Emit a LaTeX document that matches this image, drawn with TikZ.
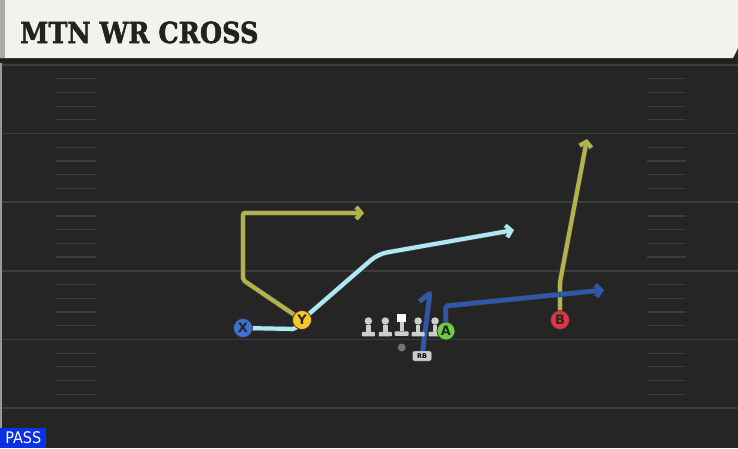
\documentclass[tikz,border=0pt]{standalone}
\usepackage{fontspec}
\setsansfont{DejaVu Sans}
\newfontfamily\titlefont{DejaVu Serif}[BoldFeatures={FakeBold=1.8}]
\usepackage{tikz}
\usetikzlibrary{positioning,arrows.meta}
\pgfdeclarelayer{field}
\pgfdeclarelayer{routes}
\pgfsetlayers{field,routes,main}

\definecolor{fieldbg}{HTML}{252525}
\definecolor{yardline}{HTML}{3C3C3C}
\definecolor{headbg}{HTML}{F4F2EC}
\definecolor{headedge}{HTML}{A8ABA8}
\definecolor{titletext}{HTML}{222222}
\definecolor{olive}{HTML}{B3B24B}
\definecolor{skyline}{HTML}{AEE9F3}
\definecolor{routeblue}{HTML}{2E57B2}
\definecolor{xblue}{HTML}{3C72D6}
\definecolor{yyellow}{HTML}{F7C81E}
\definecolor{agreen}{HTML}{6DD040}
\definecolor{bred}{HTML}{E5323F}
\definecolor{linegray}{HTML}{CDCDCD}
\definecolor{passblue}{HTML}{0A30E8}

\begin{document}
\begin{tikzpicture}[
    x=1pt, y=-1pt,
    >={Straight Barb[length=5pt,width=12pt]},
    route/.style={->, draw=#1, line width=4.2pt, rounded corners=2pt,
        preaction={draw=black!75, line width=5.4pt}},
    player/.style={circle, draw=black!80, line width=0.7pt, minimum size=19pt,
        inner sep=0pt, font=\sffamily\bfseries\fontsize{13}{13}\selectfont, text=black!85},
    lineman/.style={circle, fill=linegray, minimum size=7.5pt, inner sep=0pt},
    hash/.style={draw=yardline, line width=1.2pt}]

    \useasboundingbox (0,0) rectangle (738,448);

    % field and header
    \begin{pgfonlayer}{field}
    \fill[fieldbg] (0,0) rectangle (738,448);
    \fill[black!40] (0,58) rectangle (2,448);
    \fill[black!88] (0,58) rectangle (738,63);
    \fill[headbg] (0,0) -- (738,0) -- (738,48) -- (733,58) -- (0,58) -- cycle;
    \fill[headedge] (0,0) rectangle (5,58);
    \foreach \k in {0,...,5}
        \draw[hash, line width=1.6pt] (2,{65+68.6*\k}) -- (738,{65+68.6*\k});
    \foreach \k in {0,...,4}
        \foreach \i in {1,...,4} {
            \draw[hash] (56,{65+68.6*\k+13.72*\i}) -- (96,{65+68.6*\k+13.72*\i});
            \draw[hash] (647,{65+68.6*\k+13.72*\i}) -- (686,{65+68.6*\k+13.72*\i});
        }
    \end{pgfonlayer}
    \node[anchor=base west, inner sep=0pt, text=titletext,
        font=\titlefont\bfseries\fontsize{29}{29}\selectfont] (title) at (20,43) {\scalebox{0.88}[1]{MTN WR CROSS}};

    % line
    \node[fill=white, minimum size=8.5pt, inner sep=0pt] (C) at (401.7,318) {};
    \node[lineman] (LG) at (385.3,321) {};
    \node[lineman, left=9pt of LG] (LT) {};
    \node[lineman] (RG) at (418.1,321) {};
    \node[lineman, right=9pt of RG] (RT) {};
    \foreach \n in {LT,LG,RG,RT} {
        \fill[linegray] ([xshift=-2.2pt]\n.south) rectangle ([xshift=2.2pt,yshift=-8pt]\n.south);
        \fill[linegray, rounded corners=0.8pt] ([xshift=-6.5pt,yshift=-7pt]\n.south) rectangle ([xshift=6.5pt,yshift=-11.5pt]\n.south);
    }
    \fill[linegray] ([xshift=-2.2pt]C.south) rectangle ([xshift=2.2pt,yshift=-9pt]C.south);
    \fill[linegray, rounded corners=0.8pt] ([xshift=-7pt,yshift=-9pt]C.south) rectangle ([xshift=7pt,yshift=-13.5pt]C.south);
    \node[circle, fill=black!55, minimum size=8pt, inner sep=0pt] (ball) at (401.7,347.5) {};
    \node[fill=linegray, draw=black!70, line width=0.4pt, rounded corners=2pt, minimum width=19pt,
        minimum height=10pt, inner sep=0pt, font=\sffamily\bfseries\fontsize{6.5}{6.5}\selectfont] (RB) at (422,356) {RB};

    % skill players
    \node[player, fill=xblue] (X) at (243,328) {X};
    \node[player, fill=yyellow] (Y) at (302,320) {Y};
    \node[player, fill=agreen, minimum size=18pt] (A) at (446,331) {A};
    \node[player, fill=bred] (B) at (560,320) {B};

    % routes
    \begin{pgfonlayer}{routes}
    \coordinate (y1) at (243,280);
    \coordinate (y2) at (243,213);
    \coordinate (y3) at (364,213);
    \draw[route=olive] (Y.center) -- (y1) -- (y2) -- (y3);

    \coordinate (x1) at (295,329);
    \coordinate (x2) at (378,254);
    \coordinate (x3) at (514,230);
    \draw[route=skyline] (X.center) -- (x1) -- (Y.center) [rounded corners=9pt] -- (x2) -- (x3);

    \coordinate (b1) at (560,282);
    \coordinate (b2) at (587,139);
    \draw[route=olive] (B.center) -- (b1) -- (b2);

    \coordinate (a1) at (445.5,306);
    \coordinate (a2) at (604,290);
    \draw[route=routeblue] (A.center) -- (a1) -- (a2);

    \coordinate (rb1) at (430,293);
    \coordinate (rb2) at (419.5,301.5);
    \draw[route=routeblue, -] (RB.center) -- (rb1) -- (rb2);
    \end{pgfonlayer}

    % call
    \node[fill=passblue, text=white, anchor=south west, minimum width=46pt, minimum height=20pt,
        inner sep=0pt, font=\sffamily\fontsize{16}{16}\selectfont] (pass) at (0,448) {\scalebox{0.9}[1]{PASS}};

\end{tikzpicture}
\end{document}
